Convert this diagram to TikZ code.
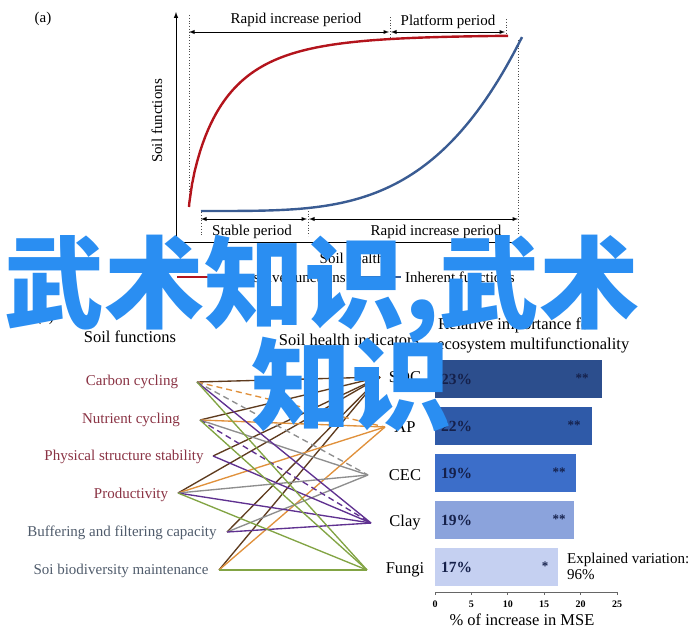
\documentclass[tikz,border=0pt]{standalone}
\usepackage{fontspec}
\setmainfont{Liberation Serif}
\newfontfamily\cjkfont{Noto Sans CJK SC}

\definecolor{curvered}{HTML}{B3141C}
\definecolor{curveblue}{HTML}{3A5C93}
\definecolor{fnred}{HTML}{8A3344}
\definecolor{fngray}{HTML}{4F5B6B}
\definecolor{lnsoc}{HTML}{5E3B1E}
\definecolor{lnap}{HTML}{E0913C}
\definecolor{lncec}{HTML}{8E8E8E}
\definecolor{lnclay}{HTML}{5F3190}
\definecolor{lnfungi}{HTML}{82A444}
\definecolor{barsoc}{HTML}{2C4E8D}
\definecolor{barap}{HTML}{2F5AA8}
\definecolor{barcec}{HTML}{3C6EC9}
\definecolor{barclay}{HTML}{8BA3DC}
\definecolor{barfungi}{HTML}{C5D0F1}
\definecolor{pcttext}{HTML}{15204A}
\definecolor{wmblue}{HTML}{2A8EF2}

\tikzset{
  lbl/.style={font=\fontsize{15}{18}\selectfont},
  head/.style={font=\fontsize{16.5}{19}\selectfont},
  fn/.style={font=\fontsize{15}{18}\selectfont},
  ind/.style={font=\fontsize{16.5}{19}\selectfont},
  guide/.style={dotted,line width=0.8pt,black!70},
  period/.style={latex-latex,line width=0.9pt},
  link/.style={line width=1.35pt},
  pct/.style={font=\bfseries\fontsize{15.5}{18}\selectfont,text=pcttext,anchor=west,inner sep=0pt},
  signif/.style={font=\bfseries\fontsize{13}{15}\selectfont,text=pcttext},
  tick/.style={font=\bfseries\fontsize{10}{12}\selectfont},
  wm/.style={font=\cjkfont\bfseries\fontsize{100}{100}\selectfont,text=wmblue,anchor=base west,inner sep=0pt}
}

\begin{document}
\begin{tikzpicture}[x=1pt,y=-1pt,>=latex]
    \useasboundingbox (0,0) rectangle (700,640);

    % painel (a)
    \node[lbl] (tagA) at (43,19) {(a)};
    % eixos
    \draw[->,line width=1pt] (176,242) -- (176,12);
    \draw[->,line width=1pt] (176,242) -- (528,242);
    \node[lbl,rotate=90] (ylab) at (157,121) {Soil functions};
    \node[lbl] (xlab) at (352,258) {Soil health};

    % linhas pontilhadas
    \draw[guide] (189,15) -- (189,207);
    \draw[guide] (390,17) -- (390,42);
    \draw[guide] (506,19) -- (506,34);
    \draw[guide] (201,212) -- (201,235);
    \draw[guide] (308,208) -- (308,236);
    \draw[guide] (518,40) -- (518,235);

    % periodos
    \draw[period] (189,32) -- (389,32);
    \draw[period] (391,32) -- (505,32);
    \node[lbl] (rapidA) at (296,20) {Rapid increase period};
    \node[lbl] (platA) at (448,22) {Platform period};
    \draw[period] (201,219) -- (307,219);
    \draw[period] (309,219) -- (518,219);
    \node[lbl] (stableB) at (252,232) {Stable period};
    \node[lbl] (rapidB) at (436,232) {Rapid increase period};

    % curvas
    \draw[curvered,line width=2.4pt] (189,207) -- plot[domain=189.3:508,samples=120] (\x,{207-172*(1-exp(-((\x-189)/37)^0.78))});
    \draw[curveblue,line width=2.4pt] (201,211) -- plot[domain=201.3:522,samples=80] (\x,{211-174*((\x-201)/321)^3.7});

    % legenda
    \draw[curvered,line width=1.6pt] (177,277) -- (227,277);
    \node[lbl,anchor=west,inner sep=0pt] (legS) at (231,277) {Sensitive functions};
    \draw[curveblue,line width=1.6pt] (352,277) -- (401,277);
    \node[lbl,anchor=west,inner sep=0pt] (legI) at (405,277) {Inherent functions};

    % painel (b)
    \node[lbl] (tagB) at (45,318) {(b)};
    \node[head] (hdF) at (130,337) {Soil functions};
    \node[head] (hdI) at (349,340) {Soil health indicators};
    \node[head,anchor=west,inner sep=0pt] (hdR1) at (438,325) {Relative importance for};
    \node[head,anchor=west,inner sep=0pt] (hdR2) at (437,345) {ecosystem multifunctionality};

    % funcoes do solo
    \node[fn,text=fnred] (tCarbon) at (132,382) {Carbon cycling};
    \node[fn,text=fnred] (tNutrient) at (131,420) {Nutrient cycling};
    \node[fn,text=fnred] (tPhysical) at (124,457) {Physical structure stability};
    \node[fn,text=fnred] (tProduct) at (131,495) {Productivity};
    \node[fn,text=fngray] (tBuffer) at (122,533) {Buffering and filtering capacity};
    \node[fn,text=fngray] (tBiodiv) at (121,571) {Soi biodiversity maintenance};
    \coordinate (carbon) at (197,382);
    \coordinate (nutrient) at (200,420);
    \coordinate (physical) at (213,456);
    \coordinate (product) at (178,493);
    \coordinate (buffer) at (227,532);
    \coordinate (biodiv) at (219,570);

    % indicadores
    \node[ind] (tSOC) at (405,377) {SOC};
    \node[ind] (tAP) at (405,427) {AP};
    \node[ind] (tCEC) at (405,475) {CEC};
    \node[ind] (tClay) at (405,523) {Clay};
    \node[ind] (tFungi) at (405,570) {Fungi};
    \coordinate (soc) at (380,377);
    \coordinate (ap) at (385,427);
    \coordinate (cec) at (368,475);
    \coordinate (clay) at (371,523);
    \coordinate (fungi) at (367,570);

    % ligacoes
    \foreach \a in {carbon,nutrient,physical,product,buffer,biodiv}
        \draw[link,lnsoc] (\a) -- (soc);
    \foreach \a in {nutrient,product,biodiv}
        \draw[link,lnap] (\a) -- (ap);
    \draw[link,lnap,dash pattern=on 6pt off 4pt] (carbon) -- (ap);
    \foreach \a in {nutrient,product,buffer}
        \draw[link,lncec] (\a) -- (cec);
    \draw[link,lncec,dash pattern=on 6pt off 4pt] (carbon) -- (cec);
    \foreach \a in {carbon,physical,product,buffer}
        \draw[link,lnclay] (\a) -- (clay);
    \draw[link,lnclay,dash pattern=on 6pt off 4pt] (nutrient) -- (clay);
    \foreach \a in {carbon,nutrient,product,biodiv}
        \draw[link,lnfungi] (\a) -- (fungi);

    % barras
    \foreach \n/\v/\c/\p/\s/\sx/\y in {SOC/22.9/barsoc/23/**/582/379,
                                        AP/21.6/barap/22/**/574/426,
                                        CEC/19.4/barcec/19/**/559/473,
                                        Clay/19.1/barclay/19/**/559/520,
                                        Fungi/16.9/barfungi/17/*/545/567} {
        \fill[\c] (435,{\y-19}) rectangle ({435+7.28*\v},{\y+19});
        \node[pct] (p\n) at (441,\y) {\p\%};
        \node[signif] (s\n) at (\sx,{\y-1}) {\s};
    }

    % eixo das barras
    \draw[black!60,line width=0.7pt] (435,592) -- (617,592);
    \foreach \t in {0,5,...,25} {
        \draw[black!60,line width=0.7pt] ({435+7.28*\t},592) -- ({435+7.28*\t},595);
        \node[tick] (tk\t) at ({435+7.28*\t},604) {\t};
    }
    \node[head] (xlabB) at (522,620) {\% of increase in MSE};
    \node[lbl,anchor=west,inner sep=0pt] (expl) at (567,560) {Explained variation:};
    \node[lbl,anchor=west,inner sep=0pt] (explv) at (567,575) {96\%};

    % marca d'agua
    \node[wm] (wmA) at (4,320) {武术知识,武术};
    \node[wm] (wmB) at (251,422) {知识};
\end{tikzpicture}
\end{document}
